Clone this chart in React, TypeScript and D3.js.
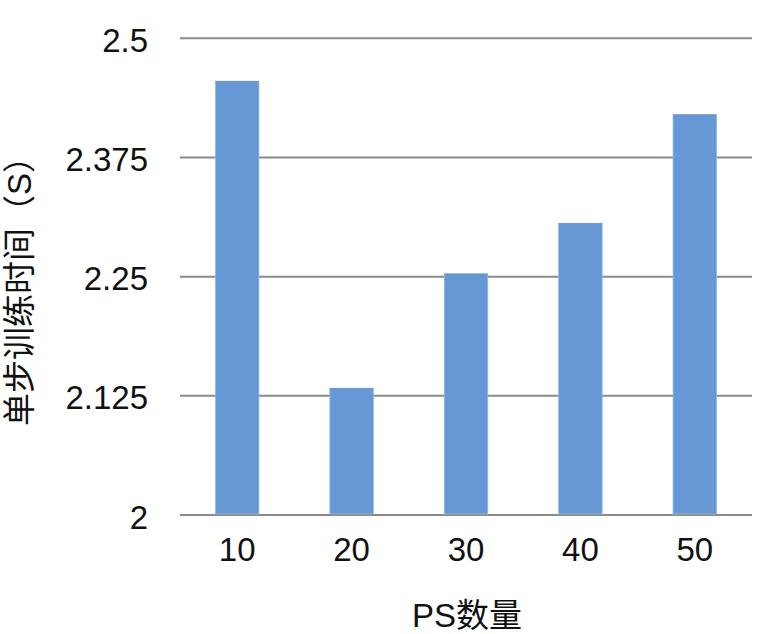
import React from "react";
import * as d3 from "d3";

const categories = ["10", "20", "30", "40", "50"];
const values = [2.455, 2.133, 2.253, 2.306, 2.42];
const yTicks = [2, 2.125, 2.25, 2.375, 2.5];
const yTickLabels = ["2", "2.125", "2.25", "2.375", "2.5"];
const xTitle = "PS数量";
const yTitle = "单步训练时间（S）";

const W = 768;
const H = 634;
const FONT = "'Liberation Sans', Arial, 'Noto Sans CJK SC', sans-serif";

export default function App() {
  const x = d3
    .scaleBand<string>()
    .domain(categories)
    .range([180, 752])
    .paddingInner(0.62)
    .paddingOuter(0.31);
  const y = d3.scaleLinear().domain([2, 2.5]).range([515, 38.3]);

  return (
    <svg
      width={W}
      height={H}
      style={{ position: "absolute", left: 0, top: 0, background: "#fff" }}
      fontFamily={FONT}
    >
      {yTicks.map((t, i) => (
        <g key={"g" + i}>
          <line
            x1={180}
            x2={752}
            y1={y(t)}
            y2={y(t)}
            stroke="#8a8a8a"
            strokeWidth={2}
          />
          <text
            x={148}
            y={y(t) + 13.5}
            textAnchor="end"
            fontSize={33}
            fill="#111"
          >
            {yTickLabels[i]}
          </text>
        </g>
      ))}
      {categories.map((c, i) => (
        <g key={"b" + c}>
          <rect
            x={x(c)!}
            y={y(values[i])}
            width={x.bandwidth()}
            height={y(2) - y(values[i]) - 1}
            fill="#6598d4"
            stroke="#8fbde6"
            strokeWidth={0.8}
          />
          <line
            x1={x(c)!}
            x2={x(c)! + x.bandwidth()}
            y1={y(values[i]) + 0.5}
            y2={y(values[i]) + 0.5}
            stroke="#7f8fa6"
            strokeWidth={1}
          />
          <text
            x={x(c)! + x.bandwidth() / 2}
            y={561}
            textAnchor="middle"
            fontSize={33}
            fill="#111"
          >
            {c}
          </text>
        </g>
      ))}
      <text
        x={467}
        y={627}
        textAnchor="middle"
        fontSize={33}
        fill="#111"
      >
        {xTitle}
      </text>
      <text
        transform={`translate(31, 283) rotate(-90)`}
        textAnchor="middle"
        fontSize={33}
        fill="#111"
      >
        {yTitle}
      </text>
    </svg>
  );
}
